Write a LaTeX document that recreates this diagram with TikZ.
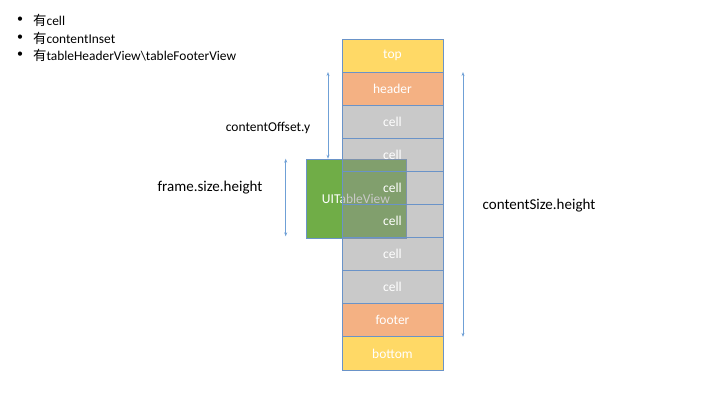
\documentclass[tikz,border=0pt]{standalone}
\usepackage{fontspec}
\setmainfont{Carlito}
\newfontfamily\cjk{Noto Sans CJK SC}
\usetikzlibrary{arrows.meta,positioning}

\definecolor{rowblue}{HTML}{6A93C8}
\definecolor{arrowblue}{HTML}{6FA0D6}
\definecolor{topyellow}{HTML}{FFD966}
\definecolor{headorange}{HTML}{F4B183}
\definecolor{cellgray}{HTML}{939393}
\definecolor{viewgreen}{HTML}{70AD47}

\tikzset{
  row/.style={draw=rowblue, line width=0.8pt, minimum width=101pt, minimum height=33.1pt,
    inner sep=0pt, outer sep=0pt, text=white, font=\fontsize{13.5}{15}\selectfont},
  cellrow/.style={row, fill=cellgray, fill opacity=0.5, text opacity=1},
  dim/.style={draw=arrowblue, line width=0.7pt, {Stealth[length=4pt,width=3pt]}-{Stealth[length=4pt,width=3pt]}},
  dimlabel/.style={font=\fontsize{15}{17}\selectfont, text=black}
}

\begin{document}
\begin{tikzpicture}[x=1pt,y=-1pt]
    \useasboundingbox (0,0) rectangle (720,405);

    % Bullet list
    \foreach \y/\txt in {20/cell, 38/contentInset, 55/tableHeaderView\textbackslash tableFooterView} {
        \node[font=\fontsize{12}{14}\selectfont] at (20,\y) {\textbullet};
        \node[anchor=west, inner sep=0pt, font=\fontsize{13.4}{15}\selectfont] at (33,\y) {{\cjk 有}\txt};
    }

    % Visible frame of the table view (behind the cells)
    \node[draw=rowblue, line width=0.6pt, fill=viewgreen, minimum width=100pt, minimum height=79pt,
          inner sep=0pt, text=white, font=\fontsize{13.5}{15}\selectfont] (view) at (356,198.5) {UITableView};

    % Content rows
    \node[row, fill=topyellow] (top) at (392.5,55.5) {top};
    \node[row, fill=headorange, below=0pt of top] (header) {header};
    \node[cellrow, below=0pt of header] (cell1) {cell};
    \node[cellrow, below=0pt of cell1] (cell2) {cell};
    \node[cellrow, below=0pt of cell2] (cell3) {cell};
    \node[cellrow, below=0pt of cell3] (cell4) {cell};
    \node[cellrow, below=0pt of cell4] (cell5) {cell};
    \node[cellrow, below=0pt of cell5] (cell6) {cell};
    \node[row, fill=headorange, below=0pt of cell6] (footer) {footer};
    \node[row, fill=topyellow, below=0pt of footer] (bottom) {bottom};

    % Dimension arrows
    \coordinate (oy1) at ([xshift=-14pt]header.north west);
    \coordinate (oy2) at (oy1 |- view.north);
    \draw[dim] (oy1) -- (oy2);
    \node[dimlabel, font=\fontsize{13.5}{15}\selectfont] (oylabel) at (268,128) {contentOffset.y};

    \coordinate (fh1) at ([xshift=-20pt]view.north west);
    \coordinate (fh2) at ([xshift=-20pt,yshift=2pt]view.south west);
    \draw[dim] (fh1) -- (fh2);
    \node[dimlabel] (fhlabel) at (210,188) {frame.size.height};

    \coordinate (cs1) at ([xshift=20pt]header.north east);
    \coordinate (cs2) at (cs1 |- footer.south);
    \draw[dim] (cs1) -- (cs2);
    \node[dimlabel] (cslabel) at (539,206) {contentSize.height};
\end{tikzpicture}
\end{document}
